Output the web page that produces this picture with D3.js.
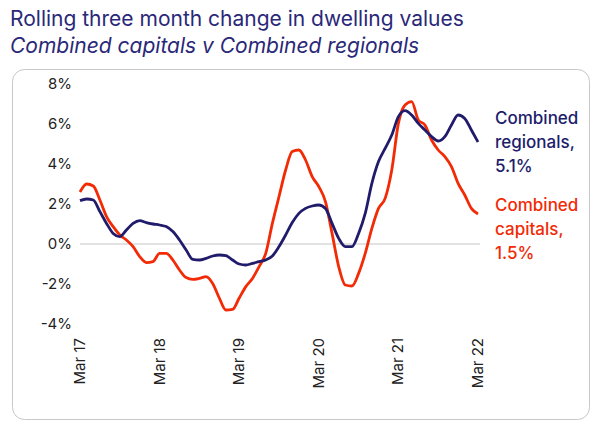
<!DOCTYPE html>
<html><head><meta charset="utf-8">
<script src="https://cdn.jsdelivr.net/npm/d3@7"></script>
<style>body{margin:0;background:#fff}svg{font-family:Inter,"Open Sans",sans-serif}</style>
</head><body><div id="chart"></div>
<script>
const tickLabels = ['Mar 17','Mar 18','Mar 19','Mar 20','Mar 21','Mar 22']
const yTicks = [-4,-2,0,2,4,6,8]
// monthly, Mar 2017 .. Mar 2022
const capitals = [2.6,3.0,2.9,2.2,1.37,0.87,0.45,0.2,-0.13,-0.63,-0.93,-0.88,-0.47,-0.47,-0.8,-1.3,-1.68,-1.77,-1.72,-1.63,-1.97,-2.7,-3.3,-3.27,-2.7,-2.13,-1.72,-1.13,-0.47,1.03,2.37,3.7,4.62,4.7,4.2,3.37,2.87,2.12,0.53,-1.13,-2.05,-2.1,-1.47,-0.47,0.78,1.78,2.28,3.7,6.03,6.95,7.12,6.2,5.95,5.2,4.7,4.37,3.87,3.03,2.45,1.78,1.5]
const regionals = [2.17,2.25,2.2,1.62,1.03,0.53,0.37,0.7,1.03,1.17,1.07,1.0,0.95,0.87,0.62,0.2,-0.3,-0.77,-0.8,-0.72,-0.6,-0.55,-0.58,-0.8,-1.0,-1.05,-0.97,-0.88,-0.8,-0.6,-0.13,0.45,1.07,1.53,1.78,1.9,1.95,1.78,1.03,0.28,-0.13,-0.13,0.53,1.53,3.03,4.12,4.78,5.45,6.37,6.67,6.45,6.03,5.7,5.37,5.15,5.37,5.95,6.45,6.28,5.7,5.1]

const navy = '#201c6b', red = '#f22a05'
const W = 596, H = 426
const svg = d3.select('#chart').append('svg').attr('width', W).attr('height', H)

svg.append('text').attr('x', 10).attr('y', 26).attr('fill', '#2a2878').attr('font-size', 21)
  .text('Rolling three month change in dwelling values')
svg.append('text').attr('x', 10).attr('y', 53).attr('fill', '#2a2878').attr('font-size', 21)
  .attr('font-style', 'italic').text('Combined capitals v Combined regionals')

svg.append('rect').attr('x', 12.5).attr('y', 69.5).attr('width', 577).attr('height', 350)
  .attr('rx', 12).attr('fill', 'none').attr('stroke', '#c8c8c8')

const x = d3.scaleLinear().domain([0, 60]).range([80, 478])
const y = d3.scaleLinear().domain([-4, 8]).range([324, 84])

svg.append('line').attr('x1', 80).attr('x2', 480).attr('y1', y(0)).attr('y2', y(0))
  .attr('stroke', '#d9d9d9').attr('stroke-width', 1.5)

svg.append('g').selectAll('text').data(yTicks).join('text')
  .attr('x', 72).attr('y', d => y(d) + 5).attr('text-anchor', 'end')
  .attr('font-size', 15).attr('fill', '#222').text(d => d + '%')

svg.append('g').selectAll('text').data(tickLabels).join('text')
  .attr('transform', (d, i) => `translate(${x(i * 12) + 5},338) rotate(-90)`)
  .attr('text-anchor', 'end').attr('font-size', 15).attr('fill', '#222').text(d => d)

const line = d3.line().x((d, i) => x(i)).y(d => y(d)).curve(d3.curveMonotoneX)
svg.append('path').datum(capitals).attr('d', line).attr('fill', 'none').attr('stroke', red).attr('stroke-width', 2.8)
svg.append('path').datum(regionals).attr('d', line).attr('fill', 'none').attr('stroke', navy).attr('stroke-width', 2.8)

const ann = (lines, y0, c) => lines.forEach((t, i) =>
  svg.append('text').attr('x', 495).attr('y', y0 + i * 24).attr('font-size', 17).attr('font-weight', 500).attr('fill', c).text(t))
ann(['Combined', 'regionals,', '5.1%'], 124, navy)
ann(['Combined', 'capitals,', '1.5%'], 211, red)
</script></body></html>
